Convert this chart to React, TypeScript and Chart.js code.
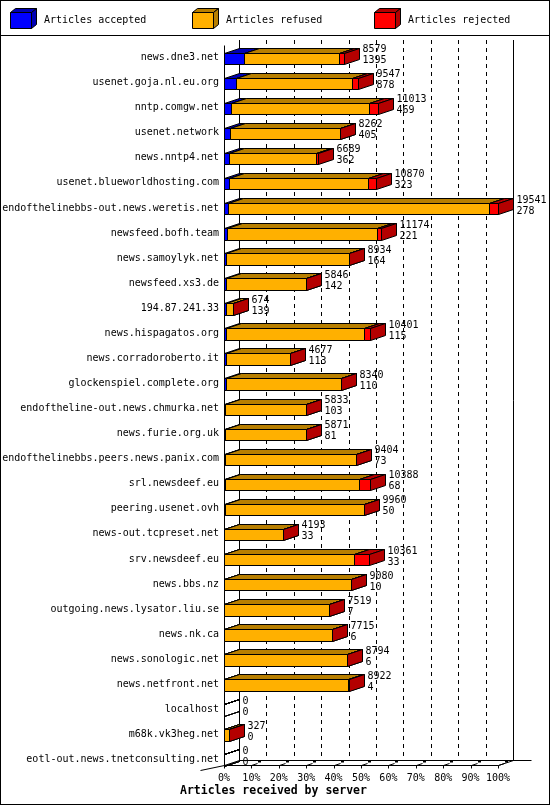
import React, { useEffect, useRef } from 'react';
import { Chart, registerables } from 'chart.js';

Chart.register(...registerables);

const categories = [
  'news.dne3.net',
  'usenet.goja.nl.eu.org',
  'nntp.comgw.net',
  'usenet.network',
  'news.nntp4.net',
  'usenet.blueworldhosting.com',
  'endofthelinebbs-out.news.weretis.net',
  'newsfeed.bofh.team',
  'news.samoylyk.net',
  'newsfeed.xs3.de',
  '194.87.241.33',
  'news.hispagatos.org',
  'news.corradoroberto.it',
  'glockenspiel.complete.org',
  'endoftheline-out.news.chmurka.net',
  'news.furie.org.uk',
  'endofthelinebbs.peers.news.panix.com',
  'srl.newsdeef.eu',
  'peering.usenet.ovh',
  'news-out.tcpreset.net',
  'srv.newsdeef.eu',
  'news.bbs.nz',
  'outgoing.news.lysator.liu.se',
  'news.nk.ca',
  'news.sonologic.net',
  'news.netfront.net',
  'localhost',
  'm68k.vk3heg.net',
  'eotl-out.news.tnetconsulting.net',
];

// printed totals (upper number) and accepted (lower number)
const totals = [8579, 9547, 11013, 8262, 6689, 10870, 19541, 11174, 8934, 5846, 674, 10401, 4677, 8340, 5833, 5871, 9404, 10388, 9960, 4193, 10361, 9080, 7519, 7715, 8794, 8922, 0, 327, 0];
const accepted = [1395, 878, 469, 405, 362, 323, 278, 221, 164, 142, 139, 115, 113, 110, 103, 81, 73, 68, 50, 33, 33, 10, 7, 6, 6, 4, 0, 0, 0];
const refused = [6834, 8239, 9854, 7857, 6187, 9957, 18623, 10668, 8770, 5704, 535, 9856, 4564, 8230, 5730, 5790, 9331, 9585, 9910, 4160, 9258, 9070, 7512, 7709, 8788, 8828, 0, 327, 0];
const rejected = [350, 430, 690, 0, 140, 590, 640, 285, 0, 0, 0, 430, 0, 0, 0, 0, 0, 735, 0, 0, 1070, 0, 0, 0, 0, 90, 0, 0, 0];

const seriesLabels = ['Articles accepted', 'Articles refused', 'Articles rejected'];
const seriesColors = ['#0000ff', '#ffb000', '#ff0000'];
const shadeColors = ['#0000b4', '#b87f00', '#b40000'];
const axisTitle = 'Articles received by server';
const percentSteps = [0, 10, 20, 30, 40, 50, 60, 70, 80, 90, 100];

const MONO = '"DejaVu Sans Mono", "Liberation Mono", monospace';
const DX = 15;
const DY = -5;

function poly(ctx: CanvasRenderingContext2D, pts: number[][], fill?: string) {
  ctx.beginPath();
  pts.forEach(([x, y], i) => (i ? ctx.lineTo(x, y) : ctx.moveTo(x, y)));
  ctx.closePath();
  if (fill) {
    ctx.fillStyle = fill;
    ctx.fill();
  }
  ctx.stroke();
}

function line(ctx: CanvasRenderingContext2D, x1: number, y1: number, x2: number, y2: number) {
  ctx.beginPath();
  ctx.moveTo(x1, y1);
  ctx.lineTo(x2, y2);
  ctx.stroke();
}

const gdPlugin = {
  id: 'gd3d',
  beforeDraw(chart: any) {
    const ctx = chart.ctx as CanvasRenderingContext2D;
    const W = chart.width;
    const H = chart.height;
    ctx.save();
    ctx.fillStyle = '#ffffff';
    ctx.fillRect(0, 0, W, H);
    ctx.strokeStyle = '#000';
    ctx.lineWidth = 1;
    ctx.strokeRect(0.5, 0.5, W - 1, H - 1);
    line(ctx, 0, 35.5, W, 35.5);

    // legend
    ctx.font = `10px ${MONO}`;
    ctx.textBaseline = 'middle';
    ctx.textAlign = 'left';
    seriesLabels.forEach((lab, i) => {
      const x0 = 10.5 + 182 * i;
      const x1 = x0 + 21;
      const yT = 12.5;
      const yB = 28.5;
      const dx = 5;
      const dy = -4;
      poly(ctx, [[x0, yT], [x1, yT], [x1, yB], [x0, yB]], seriesColors[i]);
      poly(ctx, [[x0, yT], [x0 + dx, yT + dy], [x1 + dx, yT + dy], [x1, yT]], shadeColors[i]);
      poly(ctx, [[x1, yT], [x1 + dx, yT + dy], [x1 + dx, yB + dy], [x1, yB]], shadeColors[i]);
      ctx.fillStyle = '#000';
      ctx.fillText(lab, x0 - 0.5 + 34, 20);
    });
    ctx.restore();
  },
  beforeDatasetsDraw(chart: any) {
    const ctx = chart.ctx as CanvasRenderingContext2D;
    const { left, right, top, bottom } = chart.chartArea;
    const xs = chart.scales.x;
    const L = Math.round(left) + 0.5;
    const R = Math.round(right) + 0.5;
    const floorF = Math.round(bottom - 7) + 0.5;
    const floorB = floorF + DY;
    const backTop = 40;
    ctx.save();
    ctx.strokeStyle = '#000';
    ctx.lineWidth = 1;
    // dashed grid on back wall
    ctx.setLineDash([4, 4]);
    xs.ticks.forEach((t: any, i: number) => {
      if (i === 0 || i === xs.ticks.length - 1) return;
      const x = Math.round(xs.getPixelForValue(t.value)) + 0.5 + DX;
      line(ctx, x, backTop, x, floorB);
    });
    ctx.setLineDash([]);
    // back wall edges
    line(ctx, L + DX, backTop, L + DX, floorB);
    line(ctx, R + DX, backTop, R + DX, floorB);
    line(ctx, L + DX, floorB, R + DX + 18, floorB);
    // front axis and floor
    line(ctx, L, Math.round(top) + 0.5, L, floorF);
    line(ctx, L, floorF, R, floorF);
    line(ctx, R, floorF, R + DX, floorB);
    line(ctx, L + DX, floorB, L, floorF);
    line(ctx, L, floorF, L - 24, floorF + 5);
    // ticks
    ctx.fillStyle = '#000';
    xs.ticks.forEach((t: any, i: number) => {
      const x = Math.round(xs.getPixelForValue(t.value)) + 0.5;
      line(ctx, x, floorF, x, floorF + 3);
      if (i > 0) {
        line(ctx, x, floorF, x + 6, floorF - 2);
        ctx.fillRect(x + 6.5, floorB, 3, 2);
      }
    });
    ctx.restore();
  },
  beforeDatasetDraw() {
    return false;
  },
  afterDatasetsDraw(chart: any) {
    const ctx = chart.ctx as CanvasRenderingContext2D;
    const metas = [0, 1, 2].map((i) => chart.getDatasetMeta(i));
    ctx.save();
    ctx.strokeStyle = '#000';
    ctx.lineWidth = 1;
    ctx.font = `10px ${MONO}`;
    ctx.textBaseline = 'middle';
    ctx.textAlign = 'left';
    categories.forEach((_, row) => {
      let endX = 0;
      let yc = 0;
      const total = totals[row];
      metas.forEach((meta, si) => {
        const el = meta.data[row];
        const p = el.getProps(['x', 'y', 'base'], true);
        const X0 = Math.round(Math.min(p.x, p.base)) + 0.5;
        const X1 = Math.round(Math.max(p.x, p.base)) + 0.5;
        yc = p.y;
        const YT = Math.round(p.y - 5) + 0.5;
        const YB = Math.round(p.y + 6.5) + 0.5;
        const front = total > 0 ? seriesColors[si] : undefined;
        const shade = total > 0 ? shadeColors[si] : undefined;
        poly(ctx, [[X0, YT], [X1, YT], [X1, YB], [X0, YB]], front);
        poly(ctx, [[X0, YT], [X0 + DX, YT + DY], [X1 + DX, YT + DY], [X1, YT]], shade);
        poly(ctx, [[X1, YT], [X1 + DX, YT + DY], [X1 + DX, YB + DY], [X1, YB]], shade);
        endX = Math.max(endX, X1);
      });
      ctx.fillStyle = '#000';
      const tx = endX + DX + 3;
      ctx.fillText(String(total), tx, yc - 8);
      ctx.fillText(String(accepted[row]), tx, yc + 3);
    });
    // axis title
    ctx.font = `bold 11.5px ${MONO}`;
    ctx.fillText(axisTitle, 180, 791);
    ctx.restore();
  },
};

export default function App() {
  const ref = useRef<HTMLCanvasElement | null>(null);
  useEffect(() => {
    if (!ref.current) return;
    const maxTotal = Math.max(...totals);
    const chart = new Chart(ref.current, {
      type: 'bar',
      data: {
        labels: categories,
        datasets: [
          { label: seriesLabels[0], data: accepted, backgroundColor: seriesColors[0], stack: 's' },
          { label: seriesLabels[1], data: refused, backgroundColor: seriesColors[1], stack: 's' },
          { label: seriesLabels[2], data: rejected, backgroundColor: seriesColors[2], stack: 's' },
        ],
      },
      options: {
        indexAxis: 'y',
        responsive: false,
        animation: false,
        devicePixelRatio: 1,
        layout: { padding: { top: 45, right: 52, bottom: 0, left: 0 } },
        plugins: {
          legend: { display: false },
          tooltip: { enabled: false },
          title: { display: false },
        },
        datasets: { bar: { barThickness: 11.5 } },
        scales: {
          x: {
            type: 'linear',
            stacked: true,
            min: 0,
            max: maxTotal,
            grid: { display: false, drawTicks: false },
            border: { display: false },
            afterBuildTicks: (s: any) => {
              s.ticks = percentSteps.map((p) => ({ value: (p / 100) * maxTotal }));
            },
            afterFit: (s: any) => {
              s.height = 33;
            },
            ticks: {
              color: '#000',
              font: { family: MONO, size: 10 },
              padding: 0,
              maxRotation: 0,
              autoSkip: false,
              callback: (v: any) => `${Math.round((Number(v) / maxTotal) * 100)}%`,
            },
          },
          y: {
            type: 'category',
            stacked: true,
            grid: { display: false, drawTicks: false },
            border: { display: false },
            afterFit: (s: any) => {
              s.width = 224;
            },
            ticks: {
              color: '#000',
              font: { family: MONO, size: 10 },
              padding: 5,
              autoSkip: false,
            },
          },
        },
      } as any,
      plugins: [gdPlugin as any],
    });
    return () => chart.destroy();
  }, []);
  return (
    <div style={{ position: 'absolute', left: 0, top: 0, width: 550, height: 805 }}>
      <canvas ref={ref} width={550} height={805} style={{ width: 550, height: 805, display: 'block' }} />
    </div>
  );
}
